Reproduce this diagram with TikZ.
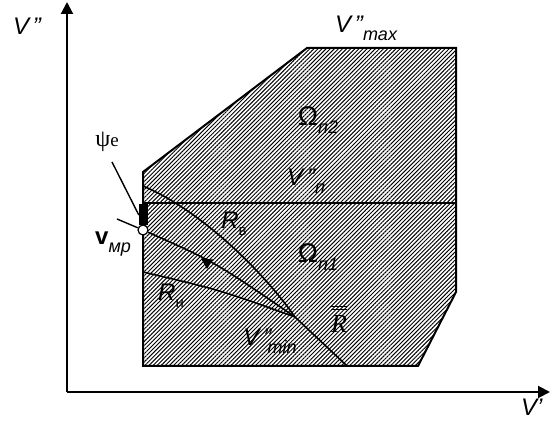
\documentclass[tikz,border=0pt]{standalone}
\usepackage{fontspec}
\setmainfont{Liberation Sans}
\newfontfamily\seriffont{Liberation Serif}
\usetikzlibrary{patterns.meta,arrows.meta}
\newcommand\lsub[1]{\raisebox{-0.32em}{\fontsize{18}{18}\selectfont\itshape #1}}
\newcommand\usub[1]{\raisebox{-0.28em}{\fontsize{15}{15}\selectfont\upshape #1}}
\begin{document}
\begin{tikzpicture}[x=1pt,y=1pt,
  lab/.style={inner sep=0pt, font=\fontsize{24}{24}\selectfont\itshape},
  edge/.style={line width=2pt, line join=miter},
  curve/.style={line width=1.6pt},
  axis/.style={line width=2pt, -{Triangle[length=12pt,width=12pt]}},
  hatch/.style={pattern={Lines[angle=45,distance=2.9pt,line width=0.95pt]}}]
\useasboundingbox (0,0) rectangle (551,420);
\clip (0,0) rectangle (551,420);
% axes
\coordinate (O) at (67,28);
\coordinate (Ytip) at (67,418);
\coordinate (Xtip) at (550,28);
\draw[axis] (O) -- (Ytip);
\draw[axis] (O) -- (Xtip);
% region
\path[hatch] (143,248) -- (307,372) -- (456,372) -- (456,128) -- (418,54) -- (143,54) -- cycle;
\draw[edge] (143,248) -- (307,372) -- (456,372) -- (456,128) -- (418,54) -- (143,54) -- cycle;
% dividing line
\coordinate (H0) at (143,217);
\coordinate (H1) at (456,217);
\draw[curve] (H0) -- (H1);
% key points
\coordinate (C) at (295,103);
\coordinate (Rv0) at (143,234);
\coordinate (Rn0) at (143,148);
\coordinate (B) at (347,54);
% curves
\draw[curve] (Rv0) .. controls (200,210) and (262,150) .. (C) -- (B);
\draw[curve] (Rn0) .. controls (220,130) .. (C);
% marker
\node[fill=black, minimum width=9pt, minimum height=21pt, inner sep=0pt] (bar) at (143.5,205) {};
\node[circle, draw, line width=1.2pt, fill=white, inner sep=0pt, minimum size=10pt] (vm) at (143,190) {};
\draw[curve] (vm) .. controls (215,158) .. (C);
\fill (201,161.5) -- (213,160.5) -- (207,151) -- cycle;
% leaders
\coordinate (psiL) at (112,258);
\coordinate (vmL) at (117,201);
\draw[line width=1.4pt] (psiL) -- (bar.west);
\draw[line width=1.4pt] (vmL) -- (vm);
% labels
\node[lab] (lV2) at (27,394) {V\,"};
\node[lab] (lVmax) at (366,392) {V\,"\lsub{max}};
\node[lab] (lW2) at (318,300) {\fontsize{27}{27}\selectfont\upshape Ω\lsub{п2}};
\node[lab] (lVn) at (306,239) {V\,"\lsub{п}};
\node[lab] (lW1) at (318,163) {\fontsize{27}{27}\selectfont\upshape Ω\lsub{п1}};
\node[lab] (lRv) at (234,196) {R\usub{в}};
\node[lab] (lRn) at (171,124) {R\usub{н}};
\node[lab] (lVmin) at (270,79) {V\,"\hspace{-0.15em}\lsub{min}};
\node[inner sep=0pt, font=\fontsize{26}{26}\seriffont\itshape] (lRbar) at (339,96) {R};
\draw[line width=1pt] ([xshift=-8pt,yshift=6pt]lRbar.north) -- ([xshift=8pt,yshift=6pt]lRbar.north);
\draw[line width=1pt] ([xshift=-8pt,yshift=9pt]lRbar.north) -- ([xshift=8pt,yshift=9pt]lRbar.north);
\node[inner sep=0pt, font=\fontsize{24}{24}\selectfont\bfseries] (lvmp) at (113,176) {v\lsub{\mdseries мр}};
\node[inner sep=0pt, font=\fontsize{24}{24}\seriffont] (lpsi) at (107,278) {ψ\fontsize{19}{19}\selectfont e};
\node[lab, anchor=base west] (lV1) at (521,4.5) {V'};
\end{tikzpicture}
\end{document}
